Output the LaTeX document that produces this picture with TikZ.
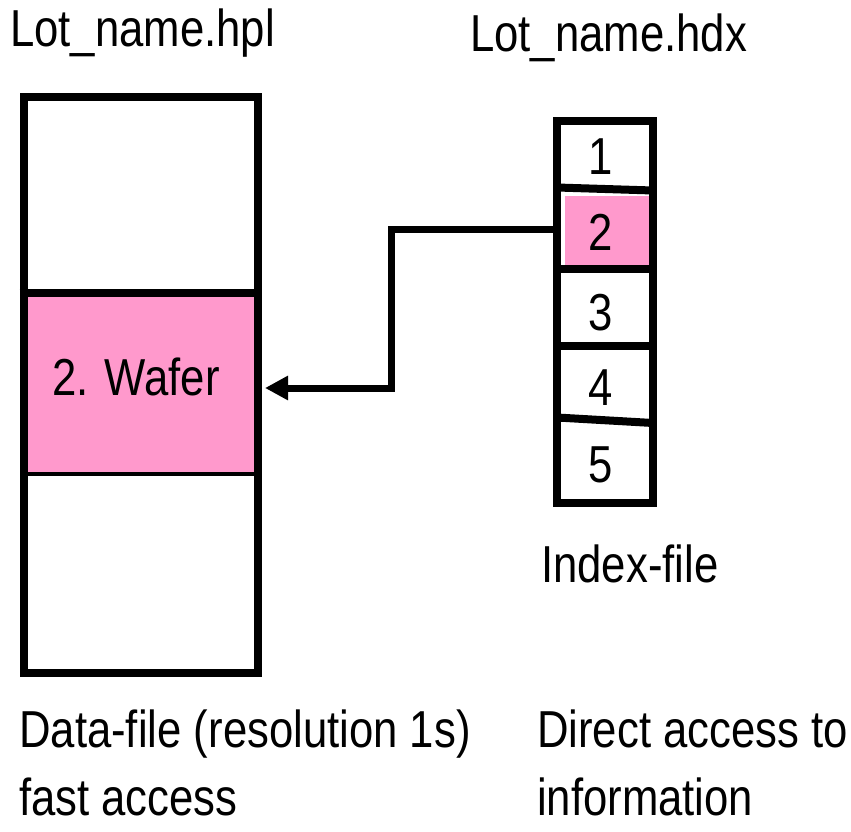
\documentclass[tikz,border=0pt]{standalone}
\usepackage{fontspec}
\setmainfont{Liberation Sans}[FakeStretch=0.84]
\usetikzlibrary{arrows.meta}

\definecolor{cellpink}{RGB}{255,153,204}

\tikzset{
  filebox/.style={draw=black, line width=8pt, minimum width=#1, inner sep=0pt},
  cell/.style={fill=cellpink, inner sep=0pt},
  divider/.style={draw=black, line width=8pt},
  thindivider/.style={draw=black, line width=4pt},
  label/.style={inner sep=0pt, anchor=base west, font=\fontsize{52}{62}\selectfont},
  digit/.style={inner sep=0pt, anchor=base, font=\fontsize{52}{62}\selectfont},
  link/.style={draw=black, line width=7pt, -{Triangle[length=23pt, width=23pt]}}
}

\begin{document}
\begin{tikzpicture}[x=1pt, y=-1pt]
  \useasboundingbox (0,0) rectangle (851,832);

  % ---- data file (Lot_name.hpl) ----
  \node[cell, minimum width=228pt, minimum height=175pt] (wafer) at (142,384.5) {};
  \node[filebox=234.5pt, minimum height=575.5pt] (datafile) at (140.75,385.25) {};
  \draw[divider] (datafile.west |- 0,292.5) -- (datafile.east |- 0,292.5);
  \draw[thindivider] (23.5,473.5) -- (258,473.5);
  \node[label] (wafertext) at (52,395) {2. Wafer};

  % ---- index file (Lot_name.hdx) ----
  \node[cell, minimum width=86pt, minimum height=70pt] (idx2) at (608,231) {};
  \node[filebox=96pt, minimum height=381pt] (index) at (605,312) {};
  \draw[divider] (557,187.5) -- (653,190.5);
  \draw[divider] (557,268.7) -- (653,268.7);
  \draw[divider] (557,346) -- (653,346);
  \draw[divider] (557,417.5) -- (653,423);

  \node[digit] (n1) at (601,175) {1};
  \node[digit] (n2) at (601,250) {2};
  \node[digit] (n3) at (601,330) {3};
  \node[digit] (n4) at (601,405) {4};
  \node[digit] (n5) at (601,482) {5};

  % ---- link from index entry 2 to the wafer record ----
  \coordinate (bend) at (391,229.5);
  \coordinate (tiprow) at (0,388);
  \draw[link] (index.west |- bend) -- (bend) |- ([xshift=3pt]datafile.east |- tiprow);

  % ---- captions ----
  \node[label] (hpl) at (10,47) {Lot\_name.hpl};
  \node[label] (hdx) at (470,52) {Lot\_name.hdx};
  \node[label] (idxcap) at (541,582) {Index-file};
  \node[label] (data1) at (19,747) {Data-file (resolution 1s)};
  \node[label] (data2) at (19,815) {fast access};
  \node[label] (dir1) at (537,747) {Direct access to};
  \node[label] (dir2) at (537,815) {information};
\end{tikzpicture}
\end{document}
